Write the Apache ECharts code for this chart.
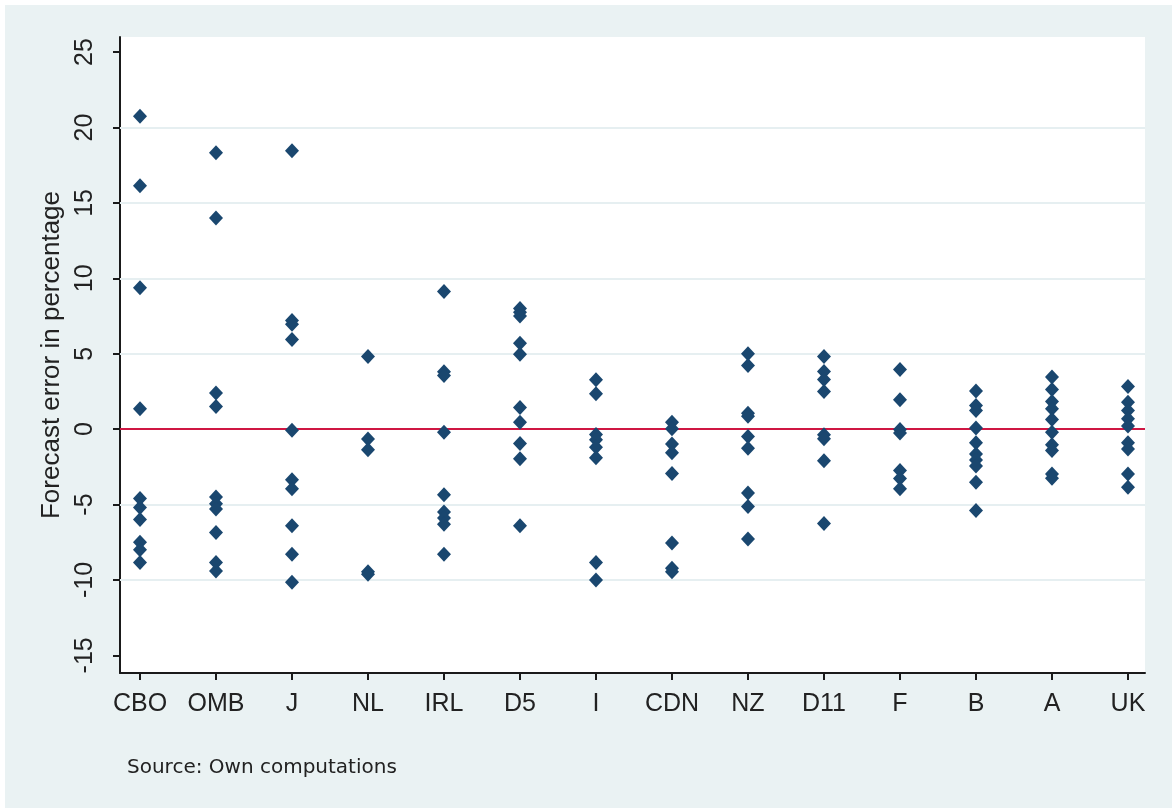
<!DOCTYPE html>
<html>
<head>
<meta charset="utf-8">
<script src="https://cdn.jsdelivr.net/npm/echarts@6/dist/echarts.min.js"></script>
<style>
html,body{margin:0;padding:0;background:#ffffff;}
#bg{position:absolute;left:5px;top:5px;width:1167px;height:803px;background:#eaf2f3;}
#c{position:absolute;left:0;top:0;width:1172px;height:808px;}
</style>
</head>
<body>
<div id="bg"></div>
<div id="c"></div>
<script>
const categories = ["CBO","OMB","J","NL","IRL","D5","I","CDN","NZ","D11","F","B","A","UK"];
const vCBO = [20.74, 16.14, 9.37, 1.35, -4.6, -5.2, -6.0, -7.5, -8.0, -8.85];
const vOMB = [18.33, 14.0, 2.4, 1.5, -4.5, -4.95, -5.3, -6.85, -8.85, -9.4];
const vJ   = [18.45, 7.2, 6.95, 5.95, -0.07, -3.35, -3.95, -6.4, -8.3, -10.15];
const vNL  = [4.82, -0.65, -1.37, -9.45, -9.62];
const vIRL = [9.13, 3.8, 3.55, -0.2, -4.35, -5.5, -5.9, -6.3, -8.3];
const vD5  = [8.0, 7.75, 7.5, 5.7, 4.97, 1.43, 0.46, -0.95, -1.97, -6.4];
const vI   = [3.27, 2.34, -0.36, -0.71, -1.2, -1.9, -8.85, -10.0];
const vCDN = [0.46, 0.02, -0.98, -1.57, -2.95, -7.55, -9.22, -9.45];
const vNZ  = [5.0, 4.22, 1.06, 0.86, -0.49, -1.26, -4.23, -5.13, -7.28];
const vD11 = [4.82, 3.82, 3.29, 2.49, -0.38, -0.64, -2.1, -6.25];
const vF   = [3.95, 1.94, -0.03, -0.25, -2.75, -3.28, -3.96];
const vB   = [2.52, 1.57, 1.23, 0.07, -0.91, -1.65, -2.05, -2.45, -3.52, -5.4];
const vA   = [3.45, 2.63, 1.83, 1.35, 0.64, -0.2, -1.04, -1.42, -2.97, -3.25];
const vUK  = [2.83, 1.79, 1.23, 0.68, 0.2, -0.91, -1.31, -2.97, -3.85];
const yTicks = [-15, -10, -5, 0, 5, 10, 15, 20, 25];
const gridValues = [-10, -5, 5, 10, 15, 20];
const refValue = 0;

const allValues = [vCBO, vOMB, vJ, vNL, vIRL, vD5, vI, vCDN, vNZ, vD11, vF, vB, vA, vUK];
const points = [];
allValues.forEach((arr, i) => arr.forEach(v => points.push([i + 1, v])));
const xTicks = categories.map((c, i) => i + 1);

const chart = echarts.init(document.getElementById('c'), null, {renderer: 'canvas'});
const txt = '#222222';
chart.setOption({
  backgroundColor: 'transparent',
  animation: false,
  grid: {
    left: 120, right: 27, top: 37, bottom: 135,
    show: true, backgroundColor: '#ffffff', borderWidth: 0
  },
  xAxis: {
    type: 'value', min: 0.737, max: 14.224,
    axisLine: {show: true, onZero: false, lineStyle: {color: '#1a1a1a', width: 2}},
    axisTick: {show: true, customValues: xTicks, length: 7, lineStyle: {color: '#1a1a1a', width: 2}},
    axisLabel: {
      customValues: xTicks, margin: 19, fontSize: 25, color: txt,
      fontFamily: 'Liberation Sans, Arial, sans-serif',
      formatter: v => categories[Math.round(v) - 1] || ''
    },
    splitLine: {show: false}
  },
  yAxis: {
    type: 'value', min: -16.17, max: 26.0,
    name: 'Forecast error in percentage', nameLocation: 'middle', nameRotate: 90, nameGap: 55,
    nameTextStyle: {fontSize: 26, color: txt, fontFamily: 'Liberation Sans, Arial, sans-serif'},
    axisLine: {show: true, onZero: false, lineStyle: {color: '#1a1a1a', width: 2}},
    axisTick: {show: true, customValues: yTicks, length: 7, lineStyle: {color: '#1a1a1a', width: 2}},
    axisLabel: {
      customValues: yTicks, rotate: 90, margin: 22, fontSize: 25, color: txt,
      fontFamily: 'Liberation Sans, Arial, sans-serif'
    },
    splitLine: {show: false}
  },
  series: [
    {
      type: 'line', data: [], z: 1, silent: true,
      markLine: {
        silent: true, symbol: ['none', 'none'], animation: false,
        label: {show: false},
        data: gridValues.map(v => ({yAxis: v, lineStyle: {color: '#e6eff1', width: 2, type: 'solid'}}))
          .concat([{yAxis: refValue, lineStyle: {color: '#cf1743', width: 2, type: 'solid'}}])
      }
    },
    {
      type: 'scatter', z: 5, data: points,
      symbol: 'diamond', symbolSize: [14, 15],
      itemStyle: {color: '#1a476f', opacity: 1}
    }
  ],
  graphic: [
    {
      type: 'text', left: 127, top: 758,
      style: {text: 'Source: Own computations', fontSize: 20, fill: txt,
        fontFamily: 'DejaVu Sans, sans-serif'}
    }
  ]
});
</script>
</body>
</html>
